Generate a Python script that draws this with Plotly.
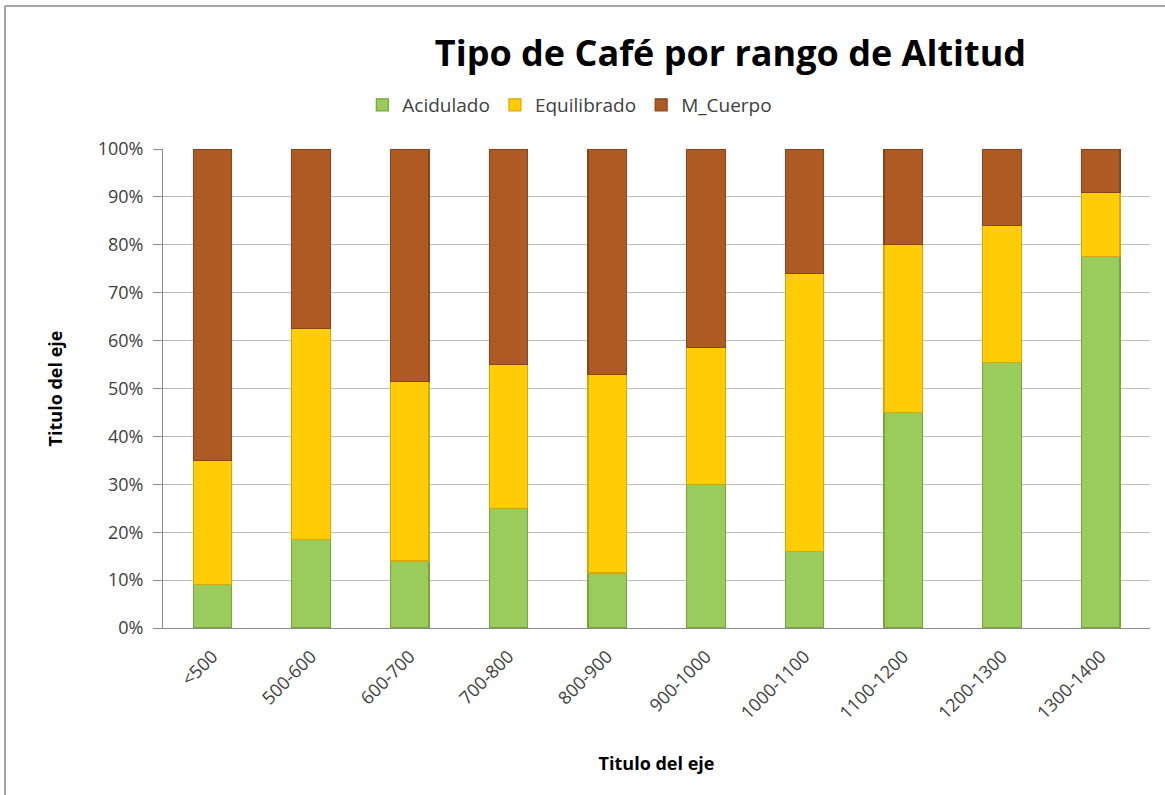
import plotly.graph_objects as go

categories = ["<500", "500-600", "600-700", "700-800", "800-900", "900-1000",
              "1000-1100", "1100-1200", "1200-1300", "1300-1400"]
acidulado = [9, 18.5, 14, 25, 11.5, 30, 16, 45, 55.5, 77.5]
equilibrado = [26, 44, 37.5, 30, 41.5, 28.5, 58, 35, 28.5, 13.5]
m_cuerpo = [65, 37.5, 48.5, 45, 47, 41.5, 26, 20, 16, 9]
y_ticks = list(range(0, 101, 10))
y_tick_labels = [f"{v}%" for v in y_ticks]

series = [
    ("Acidulado", acidulado, "#9BCB5B", "#77A53C"),
    ("Equilibrado", equilibrado, "#FFCC05", "#D9A800"),
    ("M_Cuerpo", m_cuerpo, "#AE5A22", "#8A4418"),
]

fig = go.Figure()
for name, vals, col, line in series:
    fig.add_trace(go.Bar(
        x=categories, y=vals, name=name,
        marker=dict(color=col, line=dict(color=line, width=1.2)),
    ))

font_family = "Open Sans, Lato, sans-serif"
fig.update_layout(
    barmode="stack",
    bargap=0.61,
    width=1165, height=795,
    paper_bgcolor="white", plot_bgcolor="white",
    margin=dict(l=163, r=15, t=149, b=167, autoexpand=False),
    title=dict(text="<b>Tipo de Café por rango de Altitud</b>",
               x=0.627, xanchor="center", y=0.933, yanchor="middle",
               xref="container",
               font=dict(family=font_family, size=36, color="#000000")),
    legend=dict(orientation="h", xref="container", yref="container",
                x=0.311, xanchor="left", y=0.868, yanchor="middle",
                font=dict(family=font_family, size=19, color="#404040"),
                itemwidth=30, traceorder="normal", bgcolor="rgba(0,0,0,0)"),
    font=dict(family=font_family),
    showlegend=True,
)
fig.update_yaxes(
    range=[0, 100], tickvals=y_ticks, ticktext=y_tick_labels,
    showgrid=True, gridcolor="#BFBFBF", gridwidth=1,
    showline=True, linecolor="#8C8C8C", linewidth=1,
    ticks="outside", ticklen=9, tickcolor="#8C8C8C",
    ticklabelstandoff=6,
    tickfont=dict(family=font_family, size=18, color="#404040"),
    title=dict(text="<b>Titulo del eje</b>", font=dict(family=font_family, size=18, color="#000000"),
               standoff=30),
    zeroline=False, automargin=False,
)
fig.update_xaxes(
    showline=True, linecolor="#8C8C8C", linewidth=1,
    tickangle=-45, ticks="",
    ticklabelstandoff=10,
    tickfont=dict(family=font_family, size=18, color="#404040"),
    title=dict(text="<b>Titulo del eje</b>", font=dict(family=font_family, size=18, color="#000000"),
               standoff=34),
    automargin=False,
)
# chart frame (left and top edges visible)
fig.add_shape(type="line", xref="paper", yref="paper",
              x0=-0.1601, x1=-0.1601, y0=-0.36, y1=1.2985,
              line=dict(color="#A6A6A6", width=2), layer="below")
fig.add_shape(type="line", xref="paper", yref="paper",
              x0=-0.1601, x1=1.03, y0=1.2985, y1=1.2985,
              line=dict(color="#A6A6A6", width=2), layer="below")

fig.write_html("out.html", config={"displayModeBar": False},
               post_script="document.body.style.margin='0';")
